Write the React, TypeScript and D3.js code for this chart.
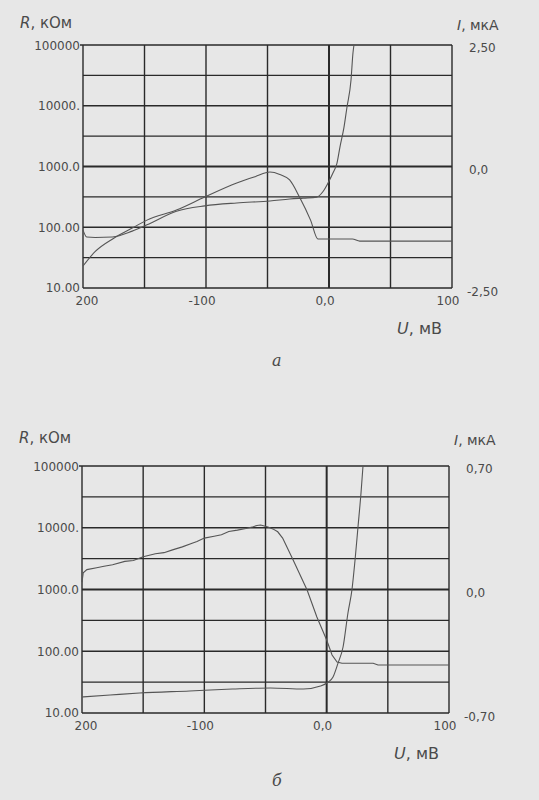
import React from "react";
import * as d3 from "d3";

// ---- Chart "а" data ----
const aRU = [-200, -190, -175, -160, -148, -124, -101, -75, -60, -48, -40, -32, -24, -15, -9, 0, 19, 25, 100];
const aRV = [23, 40, 66, 97, 131, 192, 315, 535, 680, 810, 740, 600, 315, 131, 64, 64, 64, 59, 59];
const aIU = [-200, -197, -190, -176, -160, -148, -124, -101, -75, -48, -32, -21, -10, -5, -0.8, 3.3, 6.5, 8.9, 12.2, 14.6, 17.9, 19.5, 20.3];
const aIV = [-1.31, -1.45, -1.46, -1.45, -1.33, -1.2, -0.92, -0.81, -0.75, -0.71, -0.67, -0.65, -0.63, -0.52, -0.34, -0.13, 0.07, 0.4, 0.81, 1.22, 1.78, 2.34, 2.5];

// ---- Chart "б" data ----
const bRU = [-200, -199, -196, -188, -182, -175, -165, -158, -150, -140, -133, -126, -118, -110, -106, -100, -92, -86, -80, -73, -66, -60, -57, -54, -51, -48, -44, -40, -36, -27.5, -16, -8, 0, 4.4, 8.5, 12.5, 38, 42, 100];
const bRV = [1320, 1860, 2100, 2250, 2380, 2510, 2850, 2950, 3390, 3800, 3950, 4380, 4900, 5600, 6000, 6800, 7300, 7700, 8700, 9150, 9700, 10400, 10900, 11100, 10700, 10300, 9580, 8600, 6800, 3030, 980, 358, 152, 87, 67, 64, 64, 60, 60];
const bIU = [-200, -177, -153, -112, -77, -46, -19, -5, 0.3, 5.2, 9.3, 13.4, 17.4, 20.7, 23.2, 25.6, 28.1, 29.7];
const bIV = [-0.609, -0.598, -0.587, -0.575, -0.564, -0.558, -0.564, -0.547, -0.53, -0.496, -0.417, -0.326, -0.133, 0, 0.167, 0.354, 0.55, 0.7];

const xTicks = [-200, -150, -100, -50, 0, 50, 100];
const xLabels = [
  { v: -200, t: "200" },
  { v: -100, t: "-100" },
  { v: 0, t: "0,0" },
  { v: 100, t: "100" },
];
const rTicks = [100000, 10000, 1000, 100, 10];
const rLabels = ["100000", "10000.", "1000.0", "100.00", "10.00"];
const aILabels = ["2,50", "0,0", "-2,50"];
const bILabels = ["0,70", "0,0", "-0,70"];

const FONT = "DejaVu Sans, sans-serif";
const INK = "#2a2a2a";
const TXT = "#4a4a4a";

type ChartProps = {
  left: number; right: number; top: number; bottom: number;
  iMax: number; rU: number[]; rV: number[]; iU: number[]; iV: number[];
  iLabels: string[]; letter: string; letterY: number; uLabelY: number; titleY: number;
  rCurve: any;
};

function Chart(p: ChartProps) {
  const x = d3.scaleLinear().domain([-200, 100]).range([p.left, p.right]);
  const yR = d3.scaleLog().domain([10, 100000]).range([p.bottom, p.top]);
  const yI = d3.scaleLinear().domain([-p.iMax, p.iMax]).range([p.bottom, p.top]);
  const hGrid = d3.range(0, 9).map((k) => Math.pow(10, 1 + k * 0.5));

  const rPts: [number, number][] = p.rU.map((u, i) => [x(u), yR(p.rV[i])]);
  const iPts: [number, number][] = p.iU.map((u, i) => [x(u), yI(p.iV[i])]);
  const rPath = d3.line().curve(p.rCurve)(rPts) || "";
  const iPath = d3.line().curve(d3.curveMonotoneX)(iPts) || "";

  return (
    <g>
      {hGrid.map((v, k) => (
        <line key={"h" + k} x1={k === 8 ? p.left - 3 : p.left} x2={p.right} y1={yR(v)} y2={yR(v)}
          stroke={INK} strokeWidth={k === 4 ? 2 : 1.4} />
      ))}
      {xTicks.map((v) => (
        <line key={"v" + v} x1={x(v)} x2={x(v)} y1={p.top} y2={p.bottom}
          stroke={INK} strokeWidth={v === 0 ? 2 : 1.4} />
      ))}
      <path d={rPath} fill="none" stroke="#555" strokeWidth={1.1} />
      <path d={iPath} fill="none" stroke="#555" strokeWidth={1.1} />
      {rTicks.map((v, i) => (
        <text key={"rl" + i} x={p.left - 3} y={yR(v) + 4.5 - (i === 4 ? 1 : 0)} textAnchor="end"
          fontFamily={FONT} fontSize={12} fill={TXT}>{rLabels[i]}</text>
      ))}
      {xLabels.map((l) => (
        <text key={"xl" + l.v} x={l.v === -200 ? x(l.v) + 4 : x(l.v) - 4} y={p.bottom + 17}
          textAnchor="middle" fontFamily={FONT} fontSize={12} fill={TXT}>{l.t}</text>
      ))}
      {p.iLabels.map((t, i) => (
        <text key={"il" + i} x={i === 2 ? p.right + 15 : p.right + 17}
          y={(i === 0 ? p.top : i === 1 ? (p.top + p.bottom) / 2 : p.bottom) + (i === 2 ? 8 : 7)}
          fontFamily={FONT} fontSize={12} fill={TXT}>{t}</text>
      ))}
      <text x={p.left - 63} y={p.titleY} fontFamily={FONT} fontSize={15} fill={TXT}>
        <tspan fontStyle="italic">R</tspan>, кОм
      </text>
      <text x={p.right + 5} y={p.titleY + 2} fontFamily={FONT} fontSize={14} fill={TXT}>
        <tspan fontStyle="italic">I</tspan>, мкА
      </text>
      <text x={p.right - 55} y={p.uLabelY} fontFamily={FONT} fontSize={16} fill={TXT}>
        <tspan fontStyle="italic">U</tspan>, мВ
      </text>
      <text x={272} y={p.letterY} fontFamily="DejaVu Serif, serif" fontStyle="italic" fontSize={16} fill={TXT}>{p.letter}</text>
    </g>
  );
}

export default function App() {
  return (
    <svg width={539} height={800} style={{ position: "absolute", left: 0, top: 0 }}>
      <rect x={0} y={0} width={539} height={800} fill="#e7e7e7" />
      <Chart left={83} right={452} top={45} bottom={288} iMax={2.5}
        rU={aRU} rV={aRV} iU={aIU} iV={aIV} iLabels={aILabels}
        letter="а" letterY={366} uLabelY={334} titleY={28} rCurve={d3.curveMonotoneX} />
      <Chart left={82} right={449} top={466} bottom={713} iMax={0.7}
        rU={bRU} rV={bRV} iU={bIU} iV={bIV} iLabels={bILabels}
        letter="б" letterY={786} uLabelY={759} titleY={443} rCurve={d3.curveLinear} />
    </svg>
  );
}
